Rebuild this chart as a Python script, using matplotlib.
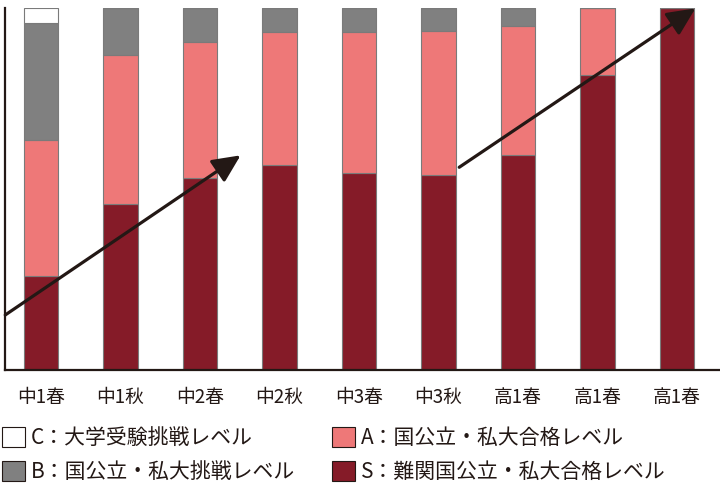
import numpy as np
import matplotlib
matplotlib.use("Agg")
import matplotlib.pyplot as plt
from matplotlib.patches import Patch, FancyArrowPatch

plt.rcParams['font.family'] = ['Noto Sans CJK JP', 'DejaVu Sans']

labels = ["中1春", "中1秋", "中2春", "中2秋", "中3春", "中3秋", "高1春", "高1春", "高1春"]
# percentages per level
s_lv = [26.0, 45.9, 53.1, 56.5, 54.4, 53.9, 59.4, 81.4, 100.0]
a_lv = [37.6, 41.1, 37.6, 36.9, 39.0, 39.7, 35.7, 18.6, 0.0]
b_lv = [32.3, 13.0, 9.3, 6.6, 6.6, 6.4, 4.9, 0.0, 0.0]
c_lv = [4.1, 0.0, 0.0, 0.0, 0.0, 0.0, 0.0, 0.0, 0.0]

col_s = "#851b28"
col_a = "#ee7878"
col_b = "#808080"
col_c = "#ffffff"
ink = "#231815"

fig = plt.figure(figsize=[7.2, 4.96], dpi=100)
ax = fig.add_axes([5/720, 1-370/496, 715/720, 362/496])

x = np.arange(len(labels))
w = 0.43
ec = "#7a7a7a"
s_lv = np.array(s_lv); a_lv = np.array(a_lv); b_lv = np.array(b_lv); c_lv = np.array(c_lv)
ax.bar(x, s_lv, w, color=col_s, edgecolor=ec, lw=0.8)
ax.bar(x, a_lv, w, bottom=s_lv, color=col_a, edgecolor=ec, lw=0.8)
ax.bar(x, b_lv, w, bottom=s_lv+a_lv, color=col_b, edgecolor=ec, lw=0.8)
ax.bar(x, c_lv, w, bottom=s_lv+a_lv+b_lv, color=col_c, edgecolor=ec, lw=0.8)

ax.set_xlim(-0.453, 8.54)
ax.set_ylim(0, 100)
ax.spines["top"].set_visible(False)
ax.spines["right"].set_visible(False)
for sp in ["left", "bottom"]:
    ax.spines[sp].set_color(ink)
    ax.spines[sp].set_linewidth(1.6)
ax.set_yticks([])
ax.set_xticks(x)
ax.set_xticklabels(labels, fontsize=13.5, color=ink)
ax.tick_params(axis="x", length=0, pad=12)

# trend arrows
for (x0, y0), (x1, y1) in [((-0.45, 15.2), (2.51, 59.3)), ((5.26, 56.0), (8.23, 99.9))]:
    ar = FancyArrowPatch((x0, y0), (x1, y1), arrowstyle="-|>,head_length=17,head_width=8",
                         color=ink, lw=2.3, mutation_scale=1, shrinkA=0, shrinkB=0,
                         clip_on=False, zorder=5)
    ax.add_patch(ar)

handles = [Patch(facecolor=col_c, edgecolor=ink, lw=0.8, label="C：大学受験挑戦レベル"),
           Patch(facecolor=col_b, edgecolor=ink, lw=0.8, label="B：国公立・私大挑戦レベル"),
           Patch(facecolor=col_a, edgecolor=ink, lw=0.8, label="A：国公立・私大合格レベル"),
           Patch(facecolor=col_s, edgecolor=ink, lw=0.8, label="S：難関国公立・私大合格レベル")]
fig.legend(handles=handles, ncol=2, loc="upper left", bbox_to_anchor=(0.0, 1-425/496),
           frameon=False, fontsize=15, handlelength=1.1, handleheight=1.1,
           handletextpad=0.3, columnspacing=1.75, labelspacing=0.55, borderaxespad=0,
           borderpad=0.1, labelcolor=ink)

plt.savefig("out.png", dpi=100)
